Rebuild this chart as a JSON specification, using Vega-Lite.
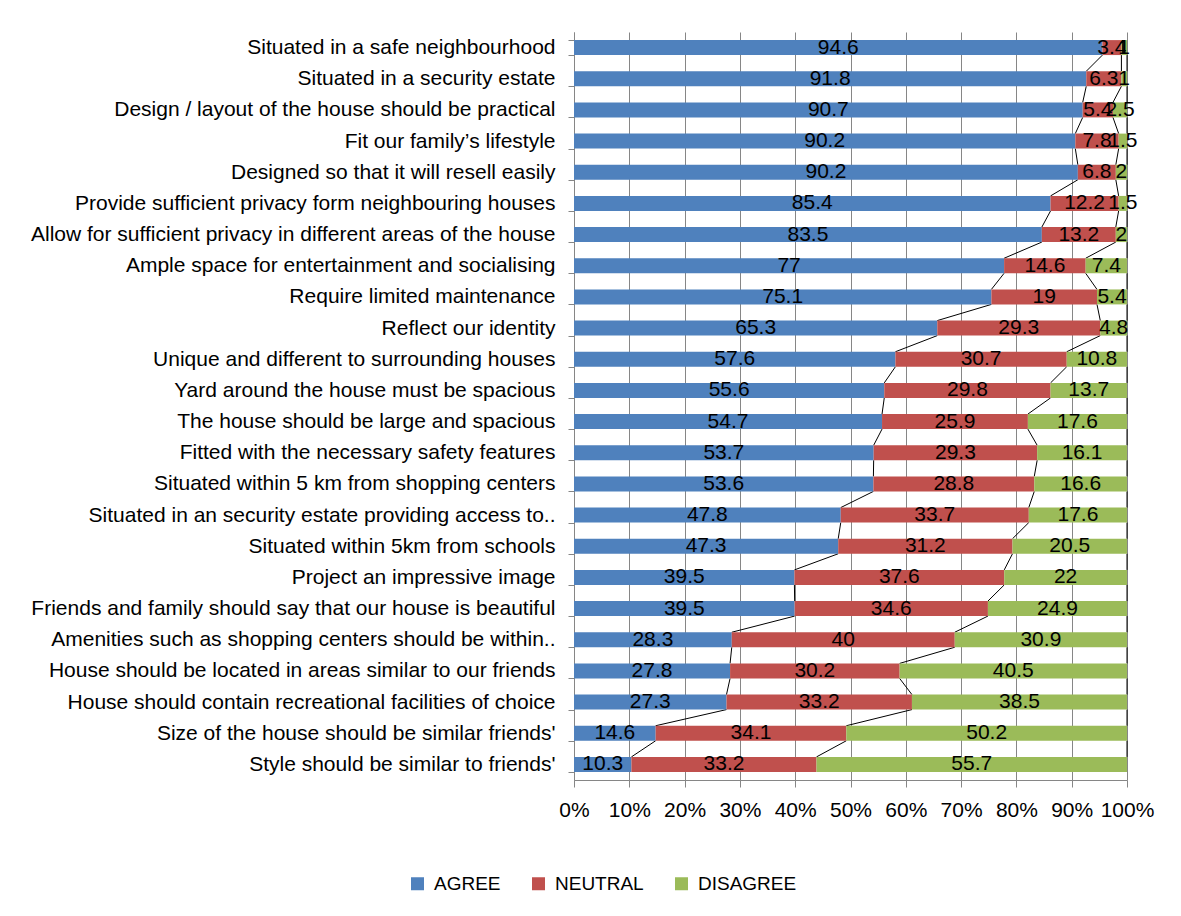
{
  "$schema": "https://vega.github.io/schema/vega-lite/v6.json",
  "autosize": {"type": "none"},
  "width": 553,
  "height": 748,
  "padding": {"left": 574, "top": 32, "right": 54, "bottom": 136},
  "background": "#ffffff",
  "config": {
    "view": {"stroke": null},
    "font": "Liberation Sans"
  },
  "datasets": {
    "survey": [
      {"item": "Situated in a safe neighbourhood", "AGREE": 94.6, "NEUTRAL": 3.4, "DISAGREE": 1},
      {"item": "Situated in a security estate", "AGREE": 91.8, "NEUTRAL": 6.3, "DISAGREE": 1},
      {"item": "Design / layout of the house should be practical", "AGREE": 90.7, "NEUTRAL": 5.4, "DISAGREE": 2.5},
      {"item": "Fit our family’s lifestyle", "AGREE": 90.2, "NEUTRAL": 7.8, "DISAGREE": 1.5},
      {"item": "Designed so that it will resell easily", "AGREE": 90.2, "NEUTRAL": 6.8, "DISAGREE": 2},
      {"item": "Provide sufficient privacy form neighbouring houses", "AGREE": 85.4, "NEUTRAL": 12.2, "DISAGREE": 1.5},
      {"item": "Allow for sufficient privacy in different areas of the house", "AGREE": 83.5, "NEUTRAL": 13.2, "DISAGREE": 2},
      {"item": "Ample space for entertainment and socialising", "AGREE": 77, "NEUTRAL": 14.6, "DISAGREE": 7.4},
      {"item": "Require limited maintenance", "AGREE": 75.1, "NEUTRAL": 19, "DISAGREE": 5.4},
      {"item": "Reflect our identity", "AGREE": 65.3, "NEUTRAL": 29.3, "DISAGREE": 4.8},
      {"item": "Unique and different to surrounding houses", "AGREE": 57.6, "NEUTRAL": 30.7, "DISAGREE": 10.8},
      {"item": "Yard around the house must be spacious", "AGREE": 55.6, "NEUTRAL": 29.8, "DISAGREE": 13.7},
      {"item": "The house should be large and spacious", "AGREE": 54.7, "NEUTRAL": 25.9, "DISAGREE": 17.6},
      {"item": "Fitted with the necessary safety features", "AGREE": 53.7, "NEUTRAL": 29.3, "DISAGREE": 16.1},
      {"item": "Situated within 5 km from shopping centers", "AGREE": 53.6, "NEUTRAL": 28.8, "DISAGREE": 16.6},
      {"item": "Situated in an security estate providing access to..", "AGREE": 47.8, "NEUTRAL": 33.7, "DISAGREE": 17.6},
      {"item": "Situated within 5km from schools", "AGREE": 47.3, "NEUTRAL": 31.2, "DISAGREE": 20.5},
      {"item": "Project an impressive image", "AGREE": 39.5, "NEUTRAL": 37.6, "DISAGREE": 22},
      {"item": "Friends and family should say that our house is beautiful", "AGREE": 39.5, "NEUTRAL": 34.6, "DISAGREE": 24.9},
      {"item": "Amenities such as shopping centers should be within..", "AGREE": 28.3, "NEUTRAL": 40, "DISAGREE": 30.9},
      {"item": "House should be located in areas similar to our friends", "AGREE": 27.8, "NEUTRAL": 30.2, "DISAGREE": 40.5},
      {"item": "House should contain recreational facilities of choice", "AGREE": 27.3, "NEUTRAL": 33.2, "DISAGREE": 38.5},
      {"item": "Size of the house should be similar friends'", "AGREE": 14.6, "NEUTRAL": 34.1, "DISAGREE": 50.2},
      {"item": "Style should be similar to friends'", "AGREE": 10.3, "NEUTRAL": 33.2, "DISAGREE": 55.7}
    ]
  },
  "data": {"name": "survey"},
  "transform": [
    {"window": [{"op": "row_number", "as": "rn"}]},
    {"fold": ["AGREE", "NEUTRAL", "DISAGREE"], "as": ["response", "value"]},
    {"calculate": "indexof(['AGREE','NEUTRAL','DISAGREE'], datum.response)", "as": "ord"},
    {"joinaggregate": [{"op": "sum", "field": "value", "as": "total"}], "groupby": ["item"]},
    {"calculate": "datum.value / datum.total", "as": "pct"},
    {"window": [{"op": "sum", "field": "pct", "as": "cend"}], "sort": [{"field": "ord"}], "groupby": ["item"], "frame": [null, 0]},
    {"calculate": "datum.cend - datum.pct", "as": "cstart"},
    {"calculate": "datum.cend - datum.pct / 2", "as": "mid"}
  ],
  "encoding": {
    "y": {
      "field": "item",
      "type": "nominal",
      "title": null,
      "scale": {
        "domain": [
          "Situated in a safe neighbourhood",
          "Situated in a security estate",
          "Design / layout of the house should be practical",
          "Fit our family’s lifestyle",
          "Designed so that it will resell easily",
          "Provide sufficient privacy form neighbouring houses",
          "Allow for sufficient privacy in different areas of the house",
          "Ample space for entertainment and socialising",
          "Require limited maintenance",
          "Reflect our identity",
          "Unique and different to surrounding houses",
          "Yard around the house must be spacious",
          "The house should be large and spacious",
          "Fitted with the necessary safety features",
          "Situated within 5 km from shopping centers",
          "Situated in an security estate providing access to..",
          "Situated within 5km from schools",
          "Project an impressive image",
          "Friends and family should say that our house is beautiful",
          "Amenities such as shopping centers should be within..",
          "House should be located in areas similar to our friends",
          "House should contain recreational facilities of choice",
          "Size of the house should be similar friends'",
          "Style should be similar to friends'"
        ],
        "paddingInner": 0.52,
        "paddingOuter": 0.26
      },
      "axis": {
        "domainColor": "#868686",
        "tickColor": "#868686",
        "tickBand": "extent",
        "tickSize": 6,
        "labelPadding": 13,
        "labelFont": "Liberation Sans",
        "labelFontSize": 21,
        "labelColor": "#000000",
        "labelLimit": 600,
        "grid": false
      }
    }
  },
  "layer": [
    {
      "transform": [
        {"window": [{"op": "lead", "field": "cend", "as": "nend"}, {"op": "lead", "field": "item", "as": "nitem"}], "sort": [{"field": "rn"}], "groupby": ["response"]},
        {"filter": "datum.nitem != null"}
      ],
      "mark": {"type": "rule", "color": "#000000", "strokeWidth": 1, "yOffset": 7.5, "y2Offset": -7.5},
      "encoding": {
        "x": {
          "field": "cend",
          "type": "quantitative",
          "scale": {"domain": [0, 1], "nice": false},
          "title": null,
          "axis": {
            "format": ".0%",
            "values": [0, 0.1, 0.2, 0.3, 0.4, 0.5, 0.6, 0.7, 0.8, 0.9, 1],
            "grid": true,
            "gridColor": "#868686",
            "gridOpacity": 1,
            "domainColor": "#868686",
            "tickColor": "#868686",
            "tickSize": 7,
            "labelPadding": 12,
            "labelFontSize": 21,
            "labelColor": "#000000",
            "labelFlush": false,
            "labelOverlap": false
          }
        },
        "x2": {"field": "nend"},
        "y2": {"field": "nitem"}
      }
    },
    {
      "mark": {"type": "bar"},
      "encoding": {
        "x": {"field": "cstart", "type": "quantitative"},
        "x2": {"field": "cend"},
        "color": {
          "field": "response",
          "type": "nominal",
          "scale": {"domain": ["AGREE", "NEUTRAL", "DISAGREE"], "range": ["#4F81BD", "#C0504D", "#9BBB59"]},
          "legend": {
            "title": null,
            "orient": "none",
            "direction": "horizontal",
            "legendX": -166,
            "legendY": 842,
            "symbolType": "square",
            "symbolSize": 169,
            "symbolStrokeWidth": 0,
            "labelFontSize": 19,
            "labelColor": "#000000",
            "labelOffset": 7,
            "columnPadding": 28
          }
        }
      }
    },
    {
      "mark": {"type": "text", "color": "#000000", "fontSize": 21, "align": "center", "baseline": "middle"},
      "encoding": {
        "x": {"field": "mid", "type": "quantitative"},
        "text": {"field": "value", "type": "quantitative"}
      }
    }
  ]
}
